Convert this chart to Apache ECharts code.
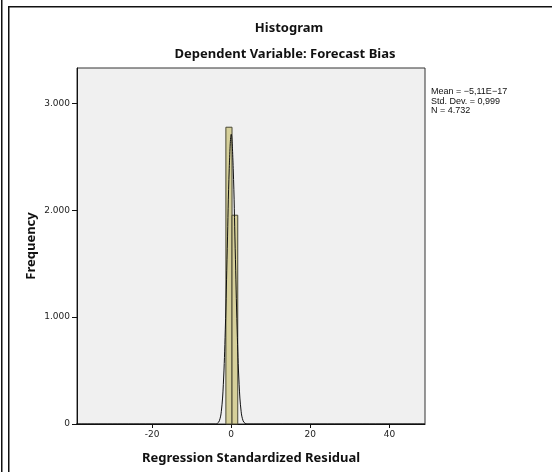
<!DOCTYPE html>
<html>
<head>
<meta charset="utf-8">
<script src="https://cdn.jsdelivr.net/npm/echarts@6/dist/echarts.min.js"></script>
<style>
  html, body { margin: 0; padding: 0; background: #fff; }
  #main { width: 552px; height: 472px; }
</style>
</head>
<body>
<div id="main"></div>
<script>
// histogram bins: [start, end, count]
var binStart = [-1.35, 0.2];
var binEnd = [0.2, 1.65];
var binCount = [2776, 1953];

// normal curve
var curveX = [-40, -4, -3.5, -3, -2.5, -2, -1.5, -1, -0.5, 0, 0.5, 1, 1.5, 2, 2.5, 3, 3.5, 4, 49];
var curveY = [0, 0, 6, 30, 119, 367, 880, 1644, 2392, 2710, 2392, 1644, 880, 367, 119, 30, 6, 0, 0];

var xTicks = [-20, 0, 20, 40];
var yTicks = [0, 1000, 2000, 3000];
var statLines = ['Mean = \u22125,11E\u221217', 'Std. Dev. = 0,999', 'N = 4.732'];

var titleFont = 'Noto Sans';
var smallFont = 'DejaVu Sans';

var bins = binStart.map(function (s, i) { return [s, binEnd[i], binCount[i]]; });
var curve = curveX.map(function (x, i) { return [x, curveY[i]]; });

var chart = echarts.init(document.getElementById('main'));
var option = {
  animation: false,
  backgroundColor: '#fff',
  title: [
    { text: 'Histogram', left: 284, top: 17, textAlign: 'center',
      textStyle: { fontFamily: titleFont, fontSize: 13, fontWeight: 'bold', color: '#111' } },
    { text: 'Dependent Variable: Forecast Bias', left: 280, top: 43, textAlign: 'center',
      textStyle: { fontFamily: titleFont, fontSize: 13, fontWeight: 'bold', color: '#111' } }
  ],
  grid: {
    left: 77, right: 127, top: 68, bottom: 48,
    show: true, backgroundColor: '#f0f0f0', borderColor: '#333', borderWidth: 1
  },
  xAxis: {
    type: 'value', min: -39, max: 49,
    name: 'Regression Standardized Residual', nameLocation: 'middle', nameGap: 28,
    nameTextStyle: { fontFamily: titleFont, fontSize: 13, fontWeight: 'bold', color: '#111' },
    axisLine: { onZero: false, lineStyle: { color: '#111' } },
    axisTick: { show: true, length: 4, customValues: xTicks, lineStyle: { color: '#111' } },
    axisLabel: { customValues: xTicks, fontFamily: smallFont, fontSize: 9, color: '#222', margin: 6 },
    splitLine: { show: false }
  },
  yAxis: {
    type: 'value', min: 0, max: 3330,
    name: 'Frequency', nameLocation: 'middle', nameGap: 39, nameRotate: 90,
    nameMoveOverlap: false,
    nameTextStyle: { fontFamily: titleFont, fontSize: 13, fontWeight: 'bold', color: '#111' },
    axisLine: { show: true, onZero: false, lineStyle: { color: '#111' } },
    axisTick: { show: true, length: 5, customValues: yTicks, lineStyle: { color: '#111' } },
    axisLabel: {
      customValues: yTicks, fontFamily: smallFont, fontSize: 9, color: '#222', margin: 7,
      formatter: function (v) { return v === 0 ? '0' : (v / 1000) + '.000'; }
    },
    splitLine: { show: false }
  },
  graphic: [
    { type: 'rect', shape: { x: 1, y: 0, width: 1.5, height: 472 }, style: { fill: '#111' } },
    { type: 'rect', shape: { x: 8, y: 6, width: 1.5, height: 466 }, style: { fill: '#111' } },
    { type: 'rect', shape: { x: 8, y: 6, width: 544, height: 1.5 }, style: { fill: '#111' } },
    { type: 'text', left: 431, top: 87,
      style: { text: statLines.join('\n'), font: '9px "Liberation Sans"', fill: '#111', lineHeight: 9.5 } }
  ],
  series: [
    {
      type: 'custom',
      data: bins,
      renderItem: function (params, api) {
        var p0 = api.coord([api.value(0), api.value(2)]);
        var p1 = api.coord([api.value(1), 0]);
        return {
          type: 'rect',
          shape: { x: p0[0], y: p0[1], width: p1[0] - p0[0], height: p1[1] - p0[1] },
          style: { fill: '#d6d09a', stroke: '#4a4834', lineWidth: 1 }
        };
      },
      encode: { x: [0, 1], y: 2 },
      z: 2
    },
    {
      type: 'line',
      data: curve,
      smooth: 0.4,
      showSymbol: false,
      lineStyle: { color: '#111', width: 1 },
      z: 3
    }
  ]
};
chart.setOption(option);
</script>
</body>
</html>
